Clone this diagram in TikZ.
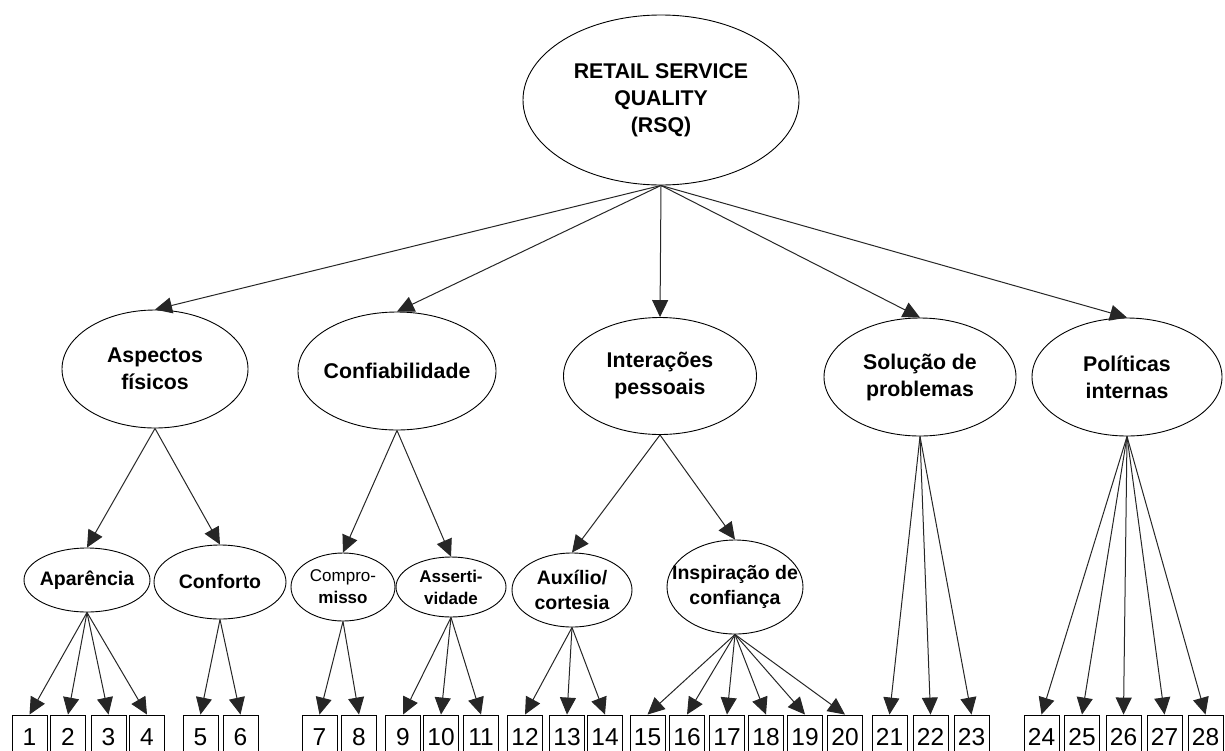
\documentclass[tikz,border=0pt]{standalone}
\usepackage{fontspec}
\setmainfont{Liberation Sans}
\usetikzlibrary{shapes.geometric,arrows.meta}

\begin{document}
\begin{tikzpicture}[
    x=1pt, y=-1pt,
    latent/.style={ellipse, draw, line width=0.9pt, inner xsep=-20pt, inner ysep=0pt, align=center,
        font=\fontsize{21.3}{27}\selectfont\bfseries},
    sublatent/.style={latent, font=\fontsize{19.5}{25}\selectfont\bfseries},
    smalllatent/.style={latent, font=\fontsize{17}{22}\selectfont\bfseries},
    item/.style={rectangle, draw, line width=0.9pt, minimum width=35pt,
        minimum height=44pt, inner sep=0pt, font=\fontsize{24.5}{24}\selectfont},
    load/.style={-{Triangle[length=17pt,width=16pt]}, line width=1pt, color=black!85}
]
    \path[use as bounding box, clip] (0,0) rectangle (1225,750);

    % second-order factor
    \node[latent, minimum width=276pt, minimum height=170pt] (rsq) at (661,100)
        {RETAIL SERVICE\\QUALITY\\(RSQ)};

    % dimensions
    \node[latent, minimum width=186pt, minimum height=118pt] (asp) at (155,369) {Aspectos\\físicos};
    \node[latent, minimum width=198pt, minimum height=118pt] (conf) at (397,371) {Confiabilidade};
    \node[latent, minimum width=193pt, minimum height=117pt] (inter) at (660,376) {Interações\\pessoais};
    \node[latent, minimum width=192pt, minimum height=118pt] (sol) at (920,377) {Solução de\\problemas};
    \node[latent, minimum width=190pt, minimum height=118pt] (pol) at (1127,377) {Políticas\\internas};

    % subdimensions
    \node[sublatent, minimum width=126pt, minimum height=64pt] (apar) at (87,580) {Aparência};
    \node[sublatent, minimum width=132pt, minimum height=74pt] (conft) at (220,582) {Conforto};
    \node[smalllatent, minimum width=104pt, minimum height=68pt] (comp) at (343,587)
        {{\mdseries Compro-}\\misso};
    \node[smalllatent, minimum width=110pt, minimum height=60pt] (asser) at (451,587) {Asserti-\\vidade};
    \node[sublatent, minimum width=120pt, minimum height=74pt] (aux) at (572,590) {Auxílio/\\cortesia};
    \node[sublatent, minimum width=136pt, minimum height=94pt] (insp) at (735,587)
        {Inspiração de\\confiança};

    % items
    \foreach \n/\x in {1/29.5, 2/68, 3/108.5, 4/147, 5/200.5, 6/240.5, 7/319.5, 8/359,
        9/403, 10/441, 11/481, 12/525, 13/567, 14/605, 15/647.5, 16/687, 17/727,
        18/766, 19/805, 20/845, 21/889.5, 22/930.5, 23/971.5, 24/1041.5, 25/1082,
        26/1123.5, 27/1164.5, 28/1205.5}
        \node[item] (i\n) at (\x,737) {\n};

    \foreach \d in {asp,conf,inter,sol,pol}
        \draw[load] (rsq.south) -- (\d.north);

    \draw[load] (asp.south) -- (apar.north);
    \draw[load] (asp.south) -- (conft.north);
    \draw[load] (conf.south) -- (comp.north);
    \draw[load] (conf.south) -- (asser.north);
    \draw[load] (inter.south) -- (aux.north);
    \draw[load] (inter.south) -- (insp.north);

    \foreach \n in {1,...,4} \draw[load] (apar.south) -- (i\n.north);
    \foreach \n in {5,6} \draw[load] (conft.south) -- (i\n.north);
    \foreach \n in {7,8} \draw[load] (comp.south) -- (i\n.north);
    \foreach \n in {9,10,11} \draw[load] (asser.south) -- (i\n.north);
    \foreach \n in {12,13,14} \draw[load] (aux.south) -- (i\n.north);
    \foreach \n in {15,...,20} \draw[load] (insp.south) -- (i\n.north);
    \foreach \n in {21,22,23} \draw[load] (sol.south) -- (i\n.north);
    \foreach \n in {24,...,28} \draw[load] (pol.south) -- (i\n.north);
\end{tikzpicture}
\end{document}
